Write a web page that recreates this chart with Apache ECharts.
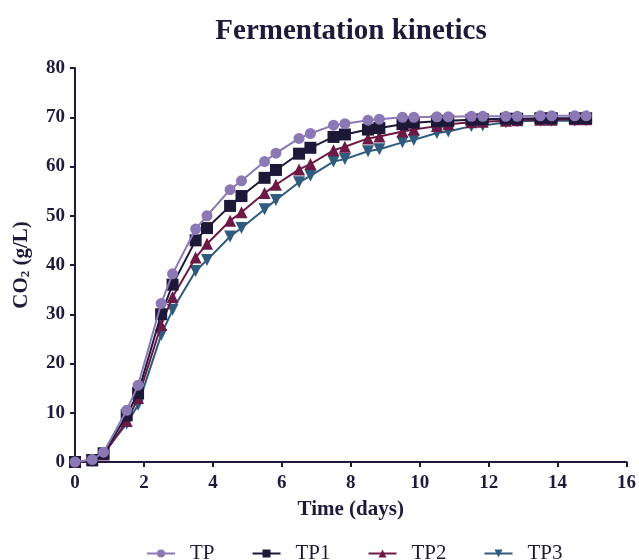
<!DOCTYPE html>
<html>
<head>
<meta charset="utf-8">
<script src="https://cdn.jsdelivr.net/npm/echarts@6/dist/echarts.min.js"></script>
<style>
  html, body { margin: 0; padding: 0; background: #fff; }
  #chart { width: 639px; height: 560px; }
</style>
</head>
<body>
<div id="chart"></div>
<script>
// sampling times (days)
var days = [0, 0.5, 0.83, 1.5, 1.83, 2.5, 2.83, 3.5, 3.83, 4.5, 4.83, 5.5, 5.83, 6.5, 6.83,
  7.5, 7.83, 8.5, 8.83, 9.5, 9.83, 10.5, 10.83, 11.5, 11.83, 12.5, 12.83, 13.5, 13.83, 14.5, 14.83];

// CO2 (g/L) per sample
var tp = [0, 0.5, 2.0, 10.5, 15.6, 32.2, 38.2, 47.3, 50.0, 55.3, 57.1, 61.0, 62.7, 65.7, 66.7,
  68.4, 68.7, 69.4, 69.6, 70.0, 70.0, 70.1, 70.1, 70.2, 70.2, 70.2, 70.2, 70.3, 70.3, 70.3, 70.3];
var tp1 = [0, 0.4, 1.7, 9.5, 14.0, 30.0, 36.0, 45.0, 47.5, 52.0, 54.0, 57.7, 59.3, 62.6, 63.8,
  66.0, 66.5, 67.5, 67.8, 68.6, 68.9, 69.2, 69.3, 69.5, 69.6, 69.7, 69.7, 69.8, 69.8, 69.8, 69.8];
var tp2 = [0, 0.3, 1.5, 8.3, 13.0, 27.8, 33.5, 41.5, 44.3, 49.0, 50.7, 54.6, 56.3, 59.4, 60.5,
  63.3, 64.0, 65.7, 66.1, 67.1, 67.5, 68.2, 68.6, 69.0, 69.1, 69.3, 69.4, 69.5, 69.5, 69.6, 69.6];
var tp3 = [0, 0.3, 1.8, 7.8, 11.6, 25.8, 30.9, 38.8, 41.0, 45.8, 47.5, 51.3, 53.2, 56.8, 58.1,
  61.0, 61.5, 63.1, 63.5, 64.9, 65.4, 66.8, 67.1, 68.2, 68.3, 69.0, 69.2, 69.3, 69.3, 69.3, 69.4];

var names = ['TP', 'TP1', 'TP2', 'TP3'];
var colors = ['#8b78b4', '#1d1838', '#6c1a45', '#2e5b7e'];
var symbols = ['circle', 'rect', 'triangle', 'triangle'];
var rotations = [0, 0, 0, 180];
var values = [tp, tp1, tp2, tp3];

var axisColor = '#1f1a3a';
var serif = '"Liberation Serif", "Times New Roman", serif';

function pairs(ys) {
  return days.map(function (d, i) { return [d, ys[i]]; });
}

var series = names.map(function (n, i) {
  return {
    name: n,
    type: 'line',
    data: pairs(values[i]),
    symbol: symbols[i],
    symbolRotate: rotations[i],
    symbolSize: symbols[i] == 'circle' ? 11 : 12,
    itemStyle: { color: colors[i] },
    lineStyle: { color: colors[i], width: 2 },
    z: 10 - i
  };
});

var chart = echarts.init(document.getElementById('chart'));
chart.setOption({
  backgroundColor: '#fff',
  animation: false,
  title: {
    text: 'Fermentation kinetics',
    left: 346,
    textAlign: 'center',
    top: 12,
    textStyle: { fontFamily: serif, fontWeight: 'bold', fontSize: 29, color: axisColor }
  },
  legend: {
    top: 538,
    left: 141,
    itemGap: 37,
    itemWidth: 28,
    itemHeight: 10,
    textStyle: { fontFamily: serif, fontSize: 21, color: axisColor, padding: [0, 0, 0, 10] },
    data: names
  },
  grid: { left: 75, right: 11, top: 68, bottom: 98 },
  xAxis: {
    type: 'value',
    min: 0, max: 16, interval: 2,
    name: 'Time (days)',
    nameLocation: 'middle',
    nameGap: 37,
    nameTextStyle: { fontFamily: serif, fontWeight: 'bold', fontSize: 21, color: axisColor },
    axisLine: { lineStyle: { color: axisColor, width: 2 } },
    axisTick: { length: 5, lineStyle: { color: axisColor, width: 2 } },
    axisLabel: { fontFamily: serif, fontWeight: 'bold', fontSize: 19, color: axisColor, margin: 12 },
    splitLine: { show: false }
  },
  yAxis: {
    type: 'value',
    min: 0, max: 80, interval: 10,
    name: '{b|CO}{s|2}{b| (g/L)}',
    nameLocation: 'middle',
    nameGap: 43,
    nameRotate: 90,
    nameTextStyle: {
      rich: {
        b: { fontFamily: serif, fontWeight: 'bold', fontSize: 21, color: axisColor },
        s: { fontFamily: serif, fontWeight: 'bold', fontSize: 13, color: axisColor, verticalAlign: 'bottom', padding: [8, 0, 0, 0] }
      }
    },
    axisLine: { show: true, lineStyle: { color: axisColor, width: 2 } },
    axisTick: { show: true, length: 5, lineStyle: { color: axisColor, width: 2 } },
    axisLabel: { fontFamily: serif, fontWeight: 'bold', fontSize: 19, color: axisColor, margin: 10 },
    splitLine: { show: false }
  },
  series: series
});
</script>
</body>
</html>
